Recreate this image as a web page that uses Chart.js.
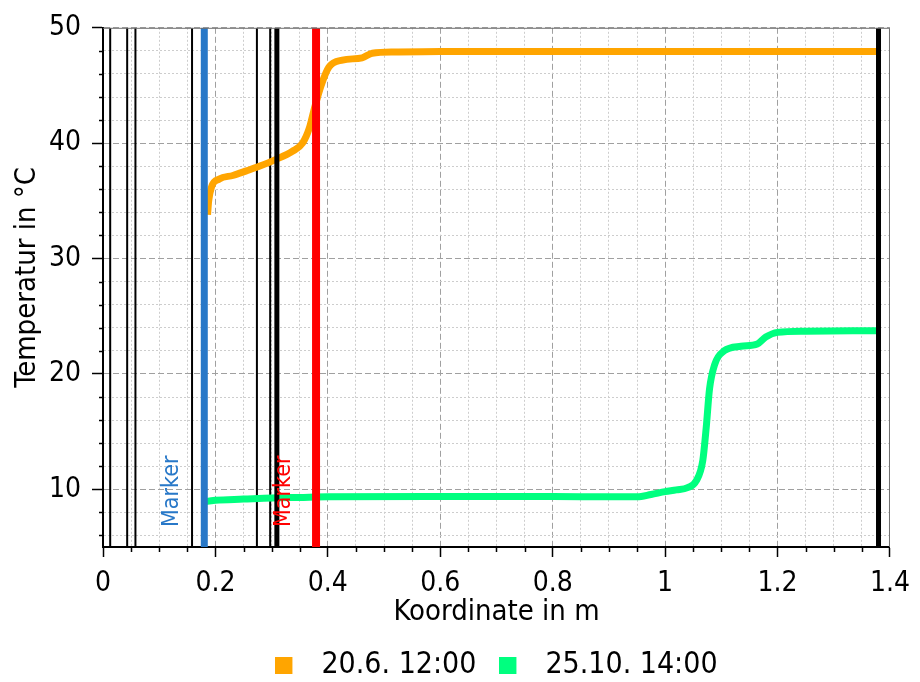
<!DOCTYPE html>
<html>
<head>
<meta charset="utf-8">
<script src="https://cdn.jsdelivr.net/npm/chart.js@4.4.1/dist/chart.umd.min.js"></script>
<style>
  body { margin: 0; background: #fff; }
  #wrap { width: 920px; height: 682px; }
</style>
</head>
<body>
<div id="wrap"><canvas id="profileChart" width="920" height="682"></canvas></div>
<script>
// Temperaturprofil - Daten
const seriesLabels = ['20.6. 12:00', '25.10. 14:00'];
const seriesColors = ['#ffa500', '#00ff7f'];

const summerX = [0.186, 0.188, 0.193, 0.207, 0.231, 0.255, 0.278, 0.308, 0.337, 0.355, 0.367, 0.376, 0.388, 0.402, 0.426, 0.461, 0.479, 0.52, 0.6, 1.0, 1.378];
const summerY = [33.8, 35.0, 36.2, 36.9, 37.2, 37.6, 38.0, 38.6, 39.3, 40.0, 41.3, 43.0, 45.0, 46.6, 47.2, 47.4, 47.8, 47.9, 47.95, 47.95, 47.95];

const winterX = [0.176, 0.185, 0.2, 0.25, 0.3, 0.35, 0.4, 0.6, 0.8, 0.9, 0.95, 0.975, 1.0, 1.02, 1.04, 1.055, 1.067, 1.073, 1.079, 1.088, 1.105, 1.135, 1.164, 1.179, 1.2, 1.25, 1.378];
const winterY = [8.85, 8.95, 9.05, 9.15, 9.25, 9.3, 9.35, 9.38, 9.38, 9.35, 9.35, 9.55, 9.8, 9.95, 10.15, 10.7, 12.5, 15.3, 18.7, 20.8, 22.0, 22.4, 22.6, 23.2, 23.6, 23.7, 23.75];

// Schichtgrenzen
const wallsThin = [0.0128, 0.043, 0.0577, 0.1584, 0.2738, 0.2974];
const wallsThick = [0.3093, 1.3796];

// Marker
const markerX = [0.1802, 0.379];
const markerColors = ['#2878c8', '#ff0000'];
const markerText = ['Marker', 'Marker'];

// Achsen
const xLabels = [0, 0.2, 0.4, 0.6, 0.8, 1, 1.2, 1.4];
const yLabels = [10, 20, 30, 40, 50];
const yTitle = 'Temperatur in °C';
const xMin = 0, xMax = 1.4, yMin = 5, yMax = 50;

const FONT = '"DejaVu Sans Condensed", "DejaVu Sans", sans-serif';
Chart.defaults.font.family = FONT;
Chart.defaults.color = '#000';

const isXMajor = v => xLabels.some(t => Math.abs(t - v) < 1e-6);
const isYMajor = v => yLabels.some(t => Math.abs(t - v) < 1e-6);

function legendBox(color) {
  const c = document.createElement('canvas');
  c.width = 31; c.height = 17;
  const g = c.getContext('2d');
  g.fillStyle = color;
  g.fillRect(0, 0, 17, 17);
  return c;
}

function toPoints(xs, ys) {
  return xs.map((x, i) => ({x: x, y: ys[i]}));
}

function vline(x, color, width, order) {
  return {
    label: '',
    data: [{x: x, y: yMin}, {x: x, y: yMax}],
    borderColor: color,
    borderWidth: width,
    pointRadius: 0,
    order: order
  };
}

const datasets = [
  {
    label: seriesLabels[0],
    data: toPoints(summerX, summerY),
    borderColor: seriesColors[0],
    backgroundColor: seriesColors[0],
    borderWidth: 7,
    pointRadius: 0,
    pointStyle: legendBox(seriesColors[0]),
    cubicInterpolationMode: 'monotone',
    order: 2
  },
  {
    label: seriesLabels[1],
    data: toPoints(winterX, winterY),
    borderColor: seriesColors[1],
    backgroundColor: seriesColors[1],
    borderWidth: 7,
    pointRadius: 0,
    pointStyle: legendBox(seriesColors[1]),
    cubicInterpolationMode: 'monotone',
    order: 2
  }
];
wallsThin.forEach(w => datasets.push(vline(w, '#000', 2, 3)));
wallsThick.forEach(w => datasets.push(vline(w, '#000', 5, 1)));
markerX.forEach((m, i) => datasets.push(vline(m, markerColors[i], i === 0 ? 7 : 8, 1)));

// Legende mittig unter der Zeichenfläche, Rahmen oben/rechts, kurze Nebenstriche, Texte
const extrasPlugin = {
  id: 'extras',
  afterLayout(chart) {
    const lg = chart.legend;
    if (!lg) return;
    lg.left = chart.chartArea.left;
    lg.right = chart.chartArea.right;
    lg.width = lg.right - lg.left;
  },
  afterDatasetsDraw(chart) {
    const {ctx, scales: {x, y}} = chart;
    ctx.save();
    ctx.font = '23px ' + FONT;
    ctx.textAlign = 'left';
    ctx.textBaseline = 'middle';
    markerX.forEach((m, i) => {
      ctx.save();
      ctx.translate(x.getPixelForValue(m) - 32, y.bottom - 20);
      ctx.rotate(-Math.PI / 2);
      ctx.fillStyle = markerColors[i];
      ctx.fillText(markerText[i], 0, 0);
      ctx.restore();
    });
    ctx.restore();
  },
  afterDraw(chart) {
    const {ctx, chartArea: a, scales: {x, y}} = chart;
    ctx.save();
    ctx.strokeStyle = '#6e6e6e';
    ctx.lineWidth = 1;
    ctx.beginPath();
    ctx.moveTo(a.left, a.top + 0.5);
    ctx.lineTo(a.right - 0.5, a.top + 0.5);
    ctx.lineTo(a.right - 0.5, a.bottom);
    ctx.stroke();

    ctx.strokeStyle = '#000';
    ctx.lineWidth = 1.5;
    ctx.beginPath();
    x.ticks.forEach(t => {
      if (isXMajor(t.value)) return;
      const px = Math.round(x.getPixelForValue(t.value)) + 0.5;
      ctx.moveTo(px, a.bottom);
      ctx.lineTo(px, a.bottom + 5);
    });
    y.ticks.forEach(t => {
      if (isYMajor(t.value)) return;
      const py = Math.round(y.getPixelForValue(t.value)) + 0.5;
      ctx.moveTo(a.left, py);
      ctx.lineTo(a.left - 4, py);
    });
    ctx.stroke();

    // y-Achsentitel, etwas oberhalb der Mitte wie im Original
    ctx.translate(27, (a.top + a.bottom) / 2 - 10);
    ctx.rotate(-Math.PI / 2);
    ctx.font = '29px ' + FONT;
    ctx.fillStyle = '#000';
    ctx.textAlign = 'center';
    ctx.textBaseline = 'middle';
    ctx.fillText(yTitle, 0, 0);
    ctx.restore();
  }
};

new Chart(document.getElementById('profileChart'), {
  type: 'line',
  data: {datasets: datasets},
  options: {
    responsive: false,
    animation: false,
    devicePixelRatio: 1,
    layout: {padding: {top: 22, right: 28, left: 0, bottom: -8}},
    plugins: {
      tooltip: {enabled: false},
      legend: {
        position: 'bottom',
        labels: {
          usePointStyle: true,
          pointStyleWidth: 31,
          boxHeight: 17,
          padding: 23,
          font: {size: 30},
          filter: item => seriesLabels.includes(item.text)
        }
      }
    },
    scales: {
      x: {
        type: 'linear',
        min: xMin,
        max: xMax,
        afterFit: s => { s.height = 80; },
        title: {display: true, text: 'Koordinate in m', font: {size: 29}, padding: {top: 0, bottom: -3}},
        ticks: {
          stepSize: 0.05,
          autoSkip: false,
          maxRotation: 0,
          padding: 10,
          font: {size: 28},
          callback: v => {
            const hit = xLabels.find(t => Math.abs(t - v) < 1e-6);
            return hit === undefined ? '' : String(hit);
          }
        },
        grid: {
          color: c => isXMajor(c.tick.value) ? '#a0a0a0' : '#cdcdcd',
          lineWidth: 1,
          tickLength: 10,
          tickWidth: 1.5,
          tickColor: c => isXMajor(c.tick.value) ? '#000' : 'rgba(0,0,0,0)'
        },
        border: {
          color: '#000',
          width: 2,
          dash: c => isXMajor(c.tick.value) ? [6, 3] : [2, 2]
        }
      },
      y: {
        type: 'linear',
        min: yMin,
        max: yMax,
        afterFit: s => { s.width = 103; },
        title: {display: false},
        ticks: {
          stepSize: 2,
          includeBounds: false,
          autoSkip: false,
          padding: 11,
          font: {size: 28},
          callback: v => isYMajor(v) ? String(v) : ''
        },
        grid: {
          color: c => isYMajor(c.tick.value) ? '#a0a0a0' : '#cdcdcd',
          lineWidth: 1,
          tickLength: 11,
          tickWidth: 1.5,
          tickColor: c => isYMajor(c.tick.value) ? '#000' : 'rgba(0,0,0,0)'
        },
        border: {
          color: '#000',
          width: 2,
          dash: c => isYMajor(c.tick.value) ? [6, 3] : [2, 2]
        }
      }
    }
  },
  plugins: [extrasPlugin]
});
</script>
</body>
</html>
